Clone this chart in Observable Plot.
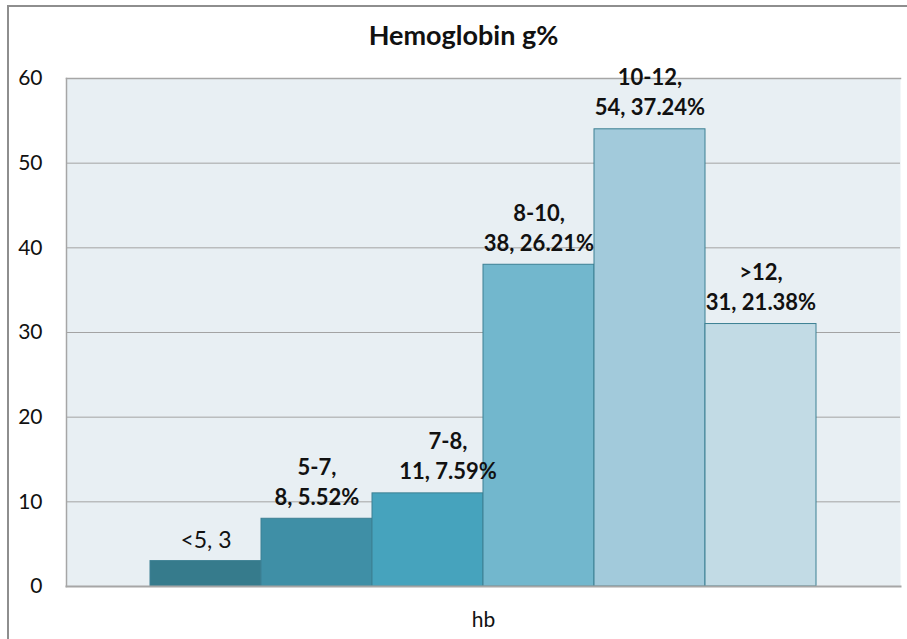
<!DOCTYPE html>
<html>
<head>
<meta charset="utf-8">
<script src="https://cdn.jsdelivr.net/npm/d3@7"></script>
<script src="https://cdn.jsdelivr.net/npm/@observablehq/plot@0.6"></script>
<style>
  html, body { margin: 0; padding: 0; background: #fff; }
  #wrap { position: relative; width: 907px; height: 639px; overflow: hidden; }
  #border { position: absolute; left: 7px; top: 5px; width: 920px; height: 660px;
            border-left: 2px solid #8e8e8e; border-top: 2px solid #8e8e8e; pointer-events: none; }
  svg { font-family: Lato, "Open Sans", sans-serif; }
</style>
</head>
<body>
<div id="wrap"><div id="border"></div></div>
<script>
const categories = ["<5", "5-7", "7-8", "8-10", "10-12", ">12"];
const counts = [3, 8, 11, 38, 54, 31];
const percents = ["", "5.52%", "7.59%", "26.21%", "37.24%", "21.38%"];
const colors = ["#367b8c", "#3f8fa6", "#46a3bd", "#72b7cd", "#a2cadb", "#c2dbe5"];
const yTicks = [0, 10, 20, 30, 40, 50, 60];
const title = "Hemoglobin g%";
const xLabel = "hb";

const data = categories.map((c, i) => ({
  cat: c,
  count: counts[i],
  pct: percents[i],
  label: percents[i] ? `${c},\n${counts[i]}, ${percents[i]}` : `${c}, ${counts[i]}`
}));

const chart = Plot.plot({
  width: 907,
  height: 639,
  marginLeft: 66,
  marginRight: 7,
  marginTop: 78,
  marginBottom: 53,
  style: { fontFamily: "Lato, 'Open Sans', sans-serif", background: "transparent", overflow: "visible" },
  x: { domain: categories, paddingInner: 0, paddingOuter: 0.734, axis: null },
  y: { domain: [0, 60], axis: null },
  color: { domain: categories, range: colors },
  marks: [
    Plot.frame({ fill: "#e8eff3", stroke: "none" }),
    Plot.gridY(yTicks, { stroke: "#a3a3a3", strokeOpacity: 1, strokeWidth: 1 }),
    Plot.axisY(yTicks, { tickSize: 0, tickPadding: 24, fontSize: 21, fill: "#111", label: null, tickFormat: d => String(d) }),
    Plot.barY(data, { x: "cat", y: "count", fill: "cat", stroke: "#3c8093", strokeWidth: 1 }),
    Plot.frame({ stroke: "#a6a6a6", strokeWidth: 1.5, anchor: "left" }),
    Plot.frame({ stroke: "#a6a6a6", strokeWidth: 1.5, anchor: "top" }),
    Plot.frame({ stroke: "#a6a6a6", strokeWidth: 2, anchor: "bottom" }),
    Plot.text(data.filter(d => !d.pct), {
      x: "cat", y: "count", text: "label", lineAnchor: "bottom", dy: -13,
      fontSize: 23, fill: "#111"
    }),
    Plot.text(data.filter(d => d.pct && d.cat !== "7-8"), {
      x: "cat", y: "count", text: "label", lineAnchor: "bottom", dy: -14,
      fontSize: 22, fontWeight: "bold", lineHeight: 1.36, fill: "#111"
    }),
    Plot.text(data.filter(d => d.cat === "7-8"), {
      x: "cat", y: "count", text: "label", lineAnchor: "bottom", dy: -14, dx: 20,
      fontSize: 22, fontWeight: "bold", lineHeight: 1.36, fill: "#111"
    }),
    Plot.text([title], { frameAnchor: "top", lineAnchor: "bottom", dy: -34, dx: -20,
      fontSize: 27, fontWeight: "bold", fill: "#111" }),
    Plot.text([xLabel], { frameAnchor: "bottom", lineAnchor: "bottom", dy: 40,
      fontSize: 21, fill: "#111" })
  ]
});
document.getElementById("wrap").prepend(chart);
</script>
</body>
</html>
